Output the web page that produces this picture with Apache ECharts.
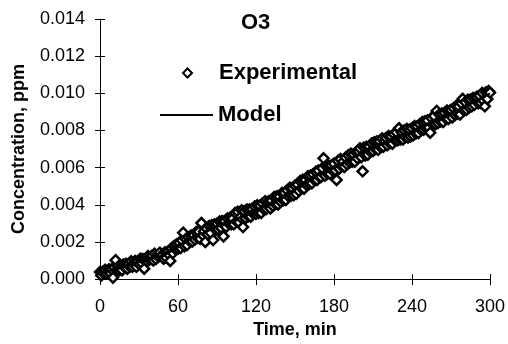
<!DOCTYPE html>
<html>
<head>
<meta charset="utf-8">
<script src="https://cdn.jsdelivr.net/npm/echarts@6/dist/echarts.min.js"></script>
<style>
  html, body { margin: 0; padding: 0; background: #fff; }
  #chart { width: 508px; height: 344px; }
</style>
</head>
<body>
<div id="chart"></div>
<script>
  // experimental data, one reading per minute (0..300)
  var expTimes = [
    0, 1, 2, 3, 4, 5, 6, 7, 8, 9, 10, 11, 12, 13, 14, 15, 16, 17, 18, 19,
    20, 21, 22, 23, 24, 25, 26, 27, 28, 29, 30, 31, 32, 33, 34, 35, 36, 37, 38, 39,
    40, 41, 42, 43, 44, 45, 46, 47, 48, 49, 50, 51, 52, 53, 54, 55, 56, 57, 58, 59,
    60, 61, 62, 63, 64, 65, 66, 67, 68, 69, 70, 71, 72, 73, 74, 75, 76, 77, 78, 79,
    80, 81, 82, 83, 84, 85, 86, 87, 88, 89, 90, 91, 92, 93, 94, 95, 96, 97, 98, 99,
    100, 101, 102, 103, 104, 105, 106, 107, 108, 109, 110, 111, 112, 113, 114, 115, 116, 117, 118, 119,
    120, 121, 122, 123, 124, 125, 126, 127, 128, 129, 130, 131, 132, 133, 134, 135, 136, 137, 138, 139,
    140, 141, 142, 143, 144, 145, 146, 147, 148, 149, 150, 151, 152, 153, 154, 155, 156, 157, 158, 159,
    160, 161, 162, 163, 164, 165, 166, 167, 168, 169, 170, 171, 172, 173, 174, 175, 176, 177, 178, 179,
    180, 181, 182, 183, 184, 185, 186, 187, 188, 189, 190, 191, 192, 193, 194, 195, 196, 197, 198, 199,
    200, 201, 202, 203, 204, 205, 206, 207, 208, 209, 210, 211, 212, 213, 214, 215, 216, 217, 218, 219,
    220, 221, 222, 223, 224, 225, 226, 227, 228, 229, 230, 231, 232, 233, 234, 235, 236, 237, 238, 239,
    240, 241, 242, 243, 244, 245, 246, 247, 248, 249, 250, 251, 252, 253, 254, 255, 256, 257, 258, 259,
    260, 261, 262, 263, 264, 265, 266, 267, 268, 269, 270, 271, 272, 273, 274, 275, 276, 277, 278, 279,
    280, 281, 282, 283, 284, 285, 286, 287, 288, 289, 290, 291, 292, 293, 294, 295, 296, 297, 298, 299,
    300
  ]
  var expValues = [
    0.00038, 0.00020, 0.00039, 0.00030, 0.00050, 0.00030, 0.00042, 0.00053, 0.00032, 0.00052,
    0.00008, 0.00062, 0.00102, 0.00048, 0.00068, 0.00048, 0.00062, 0.00048, 0.00078, 0.00064,
    0.00082, 0.00056, 0.00080, 0.00066, 0.00096, 0.00066, 0.00084, 0.00098, 0.00066, 0.00096,
    0.00080, 0.00110, 0.00086, 0.00108, 0.00056, 0.00108, 0.00098, 0.00124, 0.00104, 0.00118,
    0.00126, 0.00100, 0.00136, 0.00108, 0.00128, 0.00120, 0.00142, 0.00124, 0.00130, 0.00110,
    0.00144, 0.00116, 0.00146, 0.00132, 0.00098, 0.00166, 0.00140, 0.00178, 0.00162, 0.00188,
    0.00164, 0.00195, 0.00168, 0.00209, 0.00250, 0.00177, 0.00216, 0.00183, 0.00224, 0.00205,
    0.00234, 0.00203, 0.00236, 0.00213, 0.00254, 0.00223, 0.00256, 0.00217, 0.00302, 0.00237,
    0.00258, 0.00200, 0.00272, 0.00241, 0.00286, 0.00249, 0.00290, 0.00210, 0.00294, 0.00265,
    0.00298, 0.00267, 0.00310, 0.00277, 0.00312, 0.00230, 0.00312, 0.00281, 0.00326, 0.00299,
    0.00330, 0.00295, 0.00326, 0.00295, 0.00356, 0.00310, 0.00362, 0.00305, 0.00334, 0.00370,
    0.00280, 0.00365, 0.00328, 0.00375, 0.00338, 0.00375, 0.00336, 0.00377, 0.00352, 0.00391,
    0.00352, 0.00397, 0.00356, 0.00395, 0.00356, 0.00407, 0.00376, 0.00419, 0.00378, 0.00411,
    0.00420, 0.00380, 0.00422, 0.00394, 0.00442, 0.00404, 0.00446, 0.00402, 0.00444, 0.00416,
    0.00464, 0.00424, 0.00464, 0.00426, 0.00478, 0.00446, 0.00492, 0.00450, 0.00490, 0.00452,
    0.00502, 0.00459, 0.00508, 0.00475, 0.00528, 0.00489, 0.00534, 0.00487, 0.00534, 0.00507,
    0.00554, 0.00512, 0.00558, 0.00516, 0.00564, 0.00534, 0.00578, 0.00534, 0.00584, 0.00548,
    0.00550, 0.00597, 0.00650, 0.00557, 0.00608, 0.00567, 0.00610, 0.00567, 0.00612, 0.00583,
    0.00622, 0.00586, 0.00534, 0.00636, 0.00594, 0.00646, 0.00608, 0.00632, 0.00604, 0.00654,
    0.00618, 0.00667, 0.00628, 0.00675, 0.00632, 0.00671, 0.00632, 0.00683, 0.00650, 0.00687,
    0.00704, 0.00656, 0.00580, 0.00708, 0.00666, 0.00712, 0.00670, 0.00714, 0.00686, 0.00730,
    0.00690, 0.00737, 0.00700, 0.00741, 0.00696, 0.00743, 0.00710, 0.00757, 0.00713, 0.00743,
    0.00760, 0.00721, 0.00770, 0.00731, 0.00768, 0.00729, 0.00780, 0.00747, 0.00790, 0.00747,
    0.00812, 0.00752, 0.00792, 0.00752, 0.00800, 0.00764, 0.00808, 0.00762, 0.00804, 0.00768,
    0.00812, 0.00774, 0.00824, 0.00784, 0.00822, 0.00786, 0.00834, 0.00802, 0.00846, 0.00804,
    0.00850, 0.00811, 0.00854, 0.00815, 0.00788, 0.00867, 0.00832, 0.00877, 0.00834, 0.00905,
    0.00840, 0.00887, 0.00848, 0.00891, 0.00846, 0.00895, 0.00864, 0.00907, 0.00862, 0.00905,
    0.00910, 0.00870, 0.00920, 0.00884, 0.00932, 0.00890, 0.00930, 0.00886, 0.00946, 0.00970,
    0.00908, 0.00953, 0.00912, 0.00965, 0.00924, 0.00967, 0.00930, 0.00975, 0.00938, 0.00975,
    0.00982, 0.00946, 0.00988, 0.00948, 0.01002, 0.00960, 0.00930, 0.01006, 0.00970, 0.01012,
    0.01004
  ]

  // model curve
  var modelTimes = [0, 10, 20, 30, 40, 50, 60, 70, 80, 90, 100, 110, 120, 130, 140, 150,
    160, 170, 180, 190, 200, 210, 220, 230, 240, 250, 260, 270, 280, 290, 300]
  var modelValues = [0.0003, 0.0005, 0.0007, 0.0009, 0.0011, 0.0013, 0.0017, 0.0022, 0.0025,
    0.0028, 0.0031, 0.0034, 0.0037, 0.0040, 0.0044, 0.0048, 0.0053, 0.0057, 0.0060, 0.0064,
    0.0067, 0.0071, 0.0074, 0.0077, 0.0079, 0.0083, 0.0086, 0.0089, 0.0093, 0.0096, 0.0100]

  var xTicks = [0, 60, 120, 180, 240, 300]
  var yTicks = [0, 0.002, 0.004, 0.006, 0.008, 0.010, 0.012, 0.014]

  var font = 'Liberation Sans, Arial, sans-serif'

  function pairs(xs, ys) {
    return xs.map(function (x, i) { return [x, ys[i]] })
  }

  var chart = echarts.init(document.getElementById('chart'))

  var axisLineStyle = { color: '#000', width: 1 }
  var boldText = { fontFamily: font, fontSize: 22, fontWeight: 'bold', color: '#000' }
  var xBase = {
    type: 'value',
    min: xTicks[0],
    max: xTicks[xTicks.length - 1],
    interval: 60,
    splitLine: { show: false }
  }
  var yBase = {
    type: 'value',
    min: yTicks[0],
    max: yTicks[yTicks.length - 1],
    interval: 0.002,
    splitLine: { show: false }
  }

  chart.setOption({
    animation: false,
    backgroundColor: '#fff',
    textStyle: { fontFamily: font },
    title: {
      text: 'O3',
      left: 241,
      top: 12,
      padding: 0,
      textStyle: boldText
    },
    legend: [
      {
        data: [{ name: 'Experimental', icon: 'diamond' }],
        left: 182,
        top: 62,
        padding: 0,
        itemWidth: 9,
        itemHeight: 9,
        itemStyle: { color: '#fff', borderColor: '#000', borderWidth: 2 },
        textStyle: Object.assign({ padding: [0, 0, 0, 22] }, boldText)
      },
      {
        data: [{ name: 'Model', icon: 'rect' }],
        left: 160,
        top: 104,
        padding: 0,
        itemWidth: 53,
        itemHeight: 2,
        itemStyle: { color: '#000', borderWidth: 0 },
        textStyle: boldText
      }
    ],
    grid: { left: 100, right: 18, top: 19, bottom: 56.5 },
    xAxis: [
      Object.assign({}, xBase, {
        name: 'Time, min',
        nameLocation: 'middle',
        nameGap: 33,
        nameTextStyle: { fontFamily: font, fontSize: 18, fontWeight: 'bold', color: '#000' },
        axisLine: { lineStyle: axisLineStyle },
        axisTick: { length: 6, lineStyle: axisLineStyle },
        axisLabel: { fontFamily: font, fontSize: 18, color: '#000', margin: 19 }
      }),
      // second copy only to draw the inner half of the crossing ticks
      Object.assign({}, xBase, {
        position: 'bottom',
        axisLine: { show: false },
        axisTick: { inside: true, length: 5, lineStyle: axisLineStyle },
        axisLabel: { show: false }
      })
    ],
    yAxis: [
      Object.assign({}, yBase, {
        name: 'Concentration, ppm',
        nameLocation: 'middle',
        nameGap: 72,
        nameTextStyle: { fontFamily: font, fontSize: 18, fontWeight: 'bold', color: '#000' },
        axisLine: { show: true, lineStyle: axisLineStyle },
        axisTick: { show: true, length: 5, lineStyle: axisLineStyle },
        axisLabel: {
          fontFamily: font, fontSize: 18, color: '#000', margin: 15,
          formatter: function (v) { return v.toFixed(3) }
        }
      }),
      Object.assign({}, yBase, {
        position: 'left',
        axisLine: { show: false },
        axisTick: { show: true, inside: true, length: 5, lineStyle: axisLineStyle },
        axisLabel: { show: false }
      })
    ],
    series: [
      {
        name: 'Experimental',
        type: 'scatter',
        data: pairs(expTimes, expValues),
        symbol: 'diamond',
        symbolSize: 10,
        itemStyle: { color: '#fff', borderColor: '#000', borderWidth: 2.5, opacity: 1 }
      },
      {
        name: 'Model',
        type: 'line',
        data: pairs(modelTimes, modelValues),
        symbol: 'none',
        showSymbol: false,
        lineStyle: { color: '#000', width: 2 },
        itemStyle: { color: '#000' }
      }
    ]
  })
</script>
</body>
</html>
